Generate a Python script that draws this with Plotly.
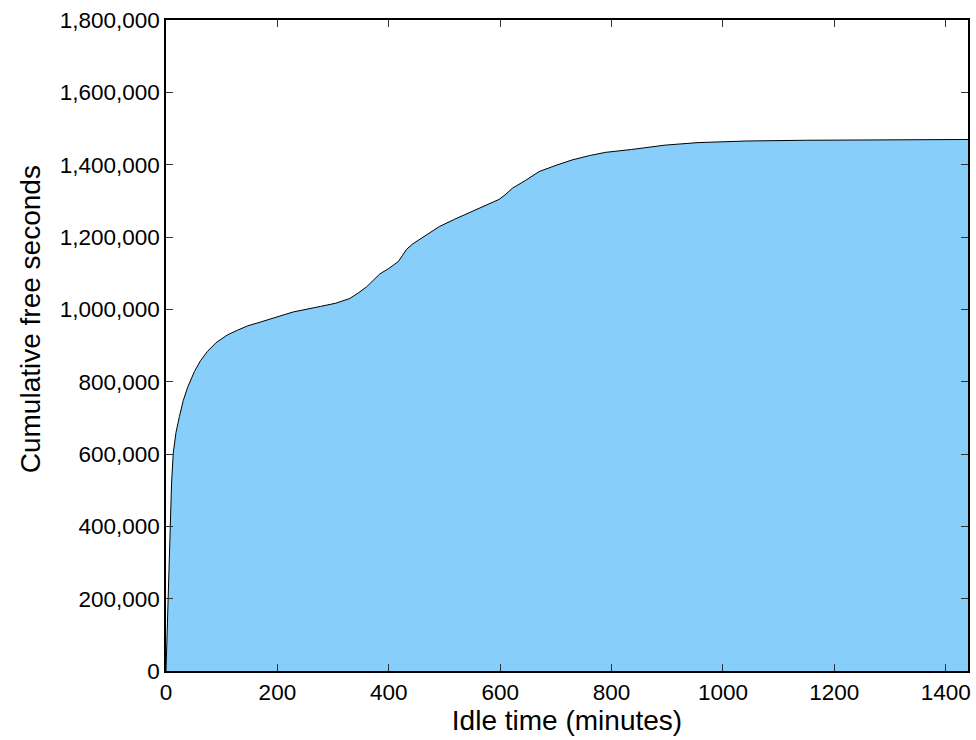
import plotly.graph_objects as go

# Idle time threshold (minutes) and cumulative free seconds available
idle_minutes = [0, 1, 2, 4, 7, 10, 13, 18, 24, 31, 39, 51, 62, 74, 90, 110, 128, 146,
                170, 193, 212, 229, 255, 277, 305, 330, 345, 360, 372, 384, 400, 417,
                425, 432, 443, 465, 491, 518, 545, 572, 598, 610, 622, 645, 670, 700,
                729, 760, 789, 836, 896, 955, 1045, 1150, 1250, 1350, 1440]
free_seconds = [0, 60000, 110000, 205000, 399000, 520000, 603000, 660000, 703000,
                748000, 785000, 828000, 858000, 883000, 908000, 929000, 942000, 954000,
                965000, 977000, 985000, 993000, 1000000, 1008000, 1017000, 1030000,
                1045000, 1062000, 1080000, 1098000, 1113000, 1132000, 1150000, 1166000,
                1181000, 1203000, 1229000, 1249000, 1268000, 1286000, 1304000, 1318000,
                1335000, 1356000, 1381000, 1398000, 1413000, 1425000, 1434000, 1442000,
                1454000, 1461000, 1465500, 1467500, 1468500, 1469000, 1469600]

x_ticks = [0, 200, 400, 600, 800, 1000, 1200, 1400]
y_ticks = [0, 200000, 400000, 600000, 800000, 1000000, 1200000, 1400000, 1600000, 1800000]
y_tick_text = ["{:,}".format(v) for v in y_ticks]

fig = go.Figure()
fig.add_trace(go.Scatter(
    x=idle_minutes, y=free_seconds,
    mode="lines",
    fill="tozeroy",
    fillcolor="#87CEFA",
    line=dict(color="black", width=1),
    hoverinfo="x+y",
    showlegend=False,
))

font_family = "Liberation Sans, Arial, Helvetica, sans-serif"
axis_common = dict(
    showline=True, linecolor="black", linewidth=1.5, mirror="ticks",
    ticks="inside", ticklen=7, tickwidth=1, tickcolor="#333",
    showgrid=False, zeroline=False,
    tickfont=dict(family=font_family, size=22.5, color="black"),
)

fig.update_layout(
    width=976, height=740,
    margin=dict(l=166, r=5, t=20, b=69),
    paper_bgcolor="white", plot_bgcolor="white",
    font=dict(family=font_family, color="black"),
    xaxis=dict(
        range=[0, 1440], tickvals=x_ticks,
        title=dict(text="Idle time (minutes)", font=dict(size=28), standoff=3),
        **axis_common,
    ),
    yaxis=dict(
        range=[0, 1800000], tickvals=y_ticks, ticktext=y_tick_text,
        **axis_common,
    ),
)

# Y-axis title placed slightly above the axis midpoint
fig.add_annotation(
    text="Cumulative free seconds",
    xref="paper", yref="paper", x=-0.169, y=0.541,
    xanchor="center", yanchor="middle",
    textangle=-90, showarrow=False,
    font=dict(family=font_family, size=28, color="black"),
)

fig.write_html("out.html")
